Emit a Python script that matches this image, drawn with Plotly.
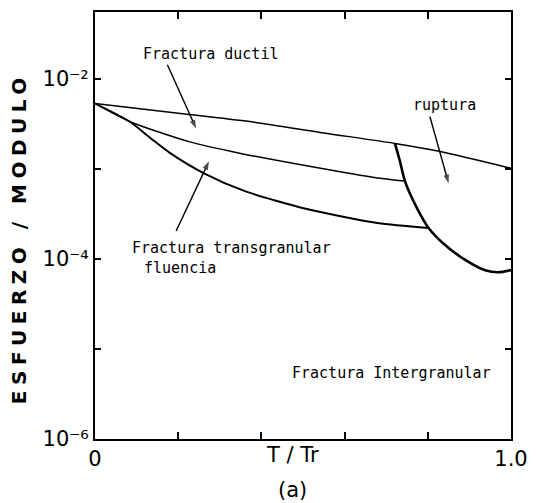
import math
import plotly.graph_objects as go

# Deformation-mechanism boundaries: normalised stress vs homologous temperature
duct_T = [0.0, 0.226, 0.38, 0.55, 0.721, 0.83, 1.0]
duct_s = [5.3e-3, 4.0e-3, 3.3e-3, 2.5e-3, 1.91e-3, 1.55e-3, 1.01e-3]

trans_T = [0.0, 0.083, 0.226, 0.35, 0.512, 0.679, 0.745]
trans_s = [5.3e-3, 3.35e-3, 2.0e-3, 1.48e-3, 1.07e-3, 7.9e-4, 7.3e-4]

flu_T = [0.0, 0.083, 0.136, 0.179, 0.262, 0.362, 0.512, 0.679, 0.802]
flu_s = [5.3e-3, 3.35e-3, 2.14e-3, 1.51e-3, 8.9e-4, 5.6e-4, 3.55e-4, 2.5e-4, 2.2e-4]

rup_T = [0.721, 0.733, 0.745, 0.774, 0.802, 0.838, 0.886, 0.94, 0.97, 1.0]
rup_s = [1.91e-3, 1.21e-3, 7.3e-4, 3.66e-4, 2.2e-4, 1.47e-4, 1.0e-4, 7.4e-5, 7.1e-5, 7.5e-5]

y_major = [1e-6, 1e-4, 1e-2]
y_major_text = ["10⁻⁶", "10⁻⁴", "10⁻²"]
y_minor = [1e-5, 1e-3]
x_major = [0.0, 1.0]
x_major_text = ["0", "1.0"]
x_minor = [0.2, 0.4, 0.6, 0.8]

# region labels: (text, T, stress, anchor)
labels = [
    ("Fractura ductil", 0.277, 10 ** -1.724, "center"),
    ("ruptura", 0.841, 10 ** -2.287, "center"),
    ("Fractura transgranular", 0.327, 10 ** -3.878, "center"),
    ("fluencia", 0.114, 10 ** -4.10, "left"),
    ("Fractura Intergranular", 0.712, 10 ** -5.27, "center"),
]

# leader arrows: (tail T, tail stress, head T, head stress)
arrows = [
    (0.174, 1.43e-2, 0.243, 2.8e-3),
    (0.805, 3.8e-3, 0.850, 6.9e-4),
    (0.195, 2.04e-4, 0.274, 1.21e-3),
]

fig = go.Figure()
line_sets = [
    (duct_T, duct_s, 1.5),
    (trans_T, trans_s, 1.5),
    (flu_T, flu_s, 1.9),
    (rup_T, rup_s, 2.6),
]
for xs, ys, w in line_sets:
    fig.add_trace(go.Scatter(
        x=xs, y=ys, mode="lines",
        line=dict(color="black", width=w, shape="spline", smoothing=0.7),
        showlegend=False, hoverinfo="skip",
    ))

# leader lines with an arrowhead marker at the pointed end
for t0, s0, t1, s1 in arrows:
    fig.add_trace(go.Scatter(
        x=[t0, t1], y=[s0, s1], mode="lines+markers",
        line=dict(color="black", width=1.4),
        marker=dict(symbol=["circle", "arrow"], size=[0, 9],
                    angleref="previous", color="black",
                    line=dict(width=0)),
        showlegend=False, hoverinfo="skip",
    ))

lab_font = dict(family="DejaVu Sans Mono", size=15, color="black")
for text, tx, sy, anchor in labels:
    fig.add_annotation(
        x=tx, y=math.log10(sy), xref="x", yref="y", text=text,
        showarrow=False, xanchor=anchor, yanchor="middle", font=lab_font,
    )

big_font = dict(family="DejaVu Sans", size=21, color="black")
fig.add_annotation(
    x=0.474, y=-0.037, xref="paper", yref="paper", text="T / Tr",
    showarrow=False, xanchor="center", yanchor="middle", font=big_font,
)
fig.add_annotation(
    x=0.474, y=-0.119, xref="paper", yref="paper", text="(a)",
    showarrow=False, xanchor="center", yanchor="middle", font=big_font,
)
fig.add_annotation(
    x=-0.183, y=0.47, xref="paper", yref="paper",
    text='<span style="letter-spacing:5.5px">ESFUERZO / MODULO</span>',
    textangle=-90, showarrow=False, xanchor="center", yanchor="middle",
    font=dict(family="DejaVu Sans", size=20, color="black", weight="bold"),
)

axis_common = dict(
    showgrid=False, zeroline=False, showline=True, linecolor="black",
    linewidth=2, ticks="inside", tickcolor="black", tickwidth=1.5,
    mirror="ticks", tickfont=big_font,
)
fig.update_xaxes(
    range=[0, 1], tickvals=x_major, ticktext=x_major_text, ticklen=7,
    minor=dict(tickvals=x_minor, ticks="inside", ticklen=7,
               tickcolor="black", tickwidth=1.5, showgrid=False),
    **axis_common,
)
fig.update_yaxes(
    type="log", range=[-6, -1.26], tickvals=y_major, ticktext=y_major_text,
    ticklen=6,
    minor=dict(tickvals=y_minor, ticks="inside", ticklen=6,
               tickcolor="black", tickwidth=1.5, showgrid=False),
    **axis_common,
)
fig.update_layout(
    width=538, height=503,
    margin=dict(l=95, r=23, t=10, b=64),
    paper_bgcolor="white", plot_bgcolor="white",
)

fig.write_html("out.html")
